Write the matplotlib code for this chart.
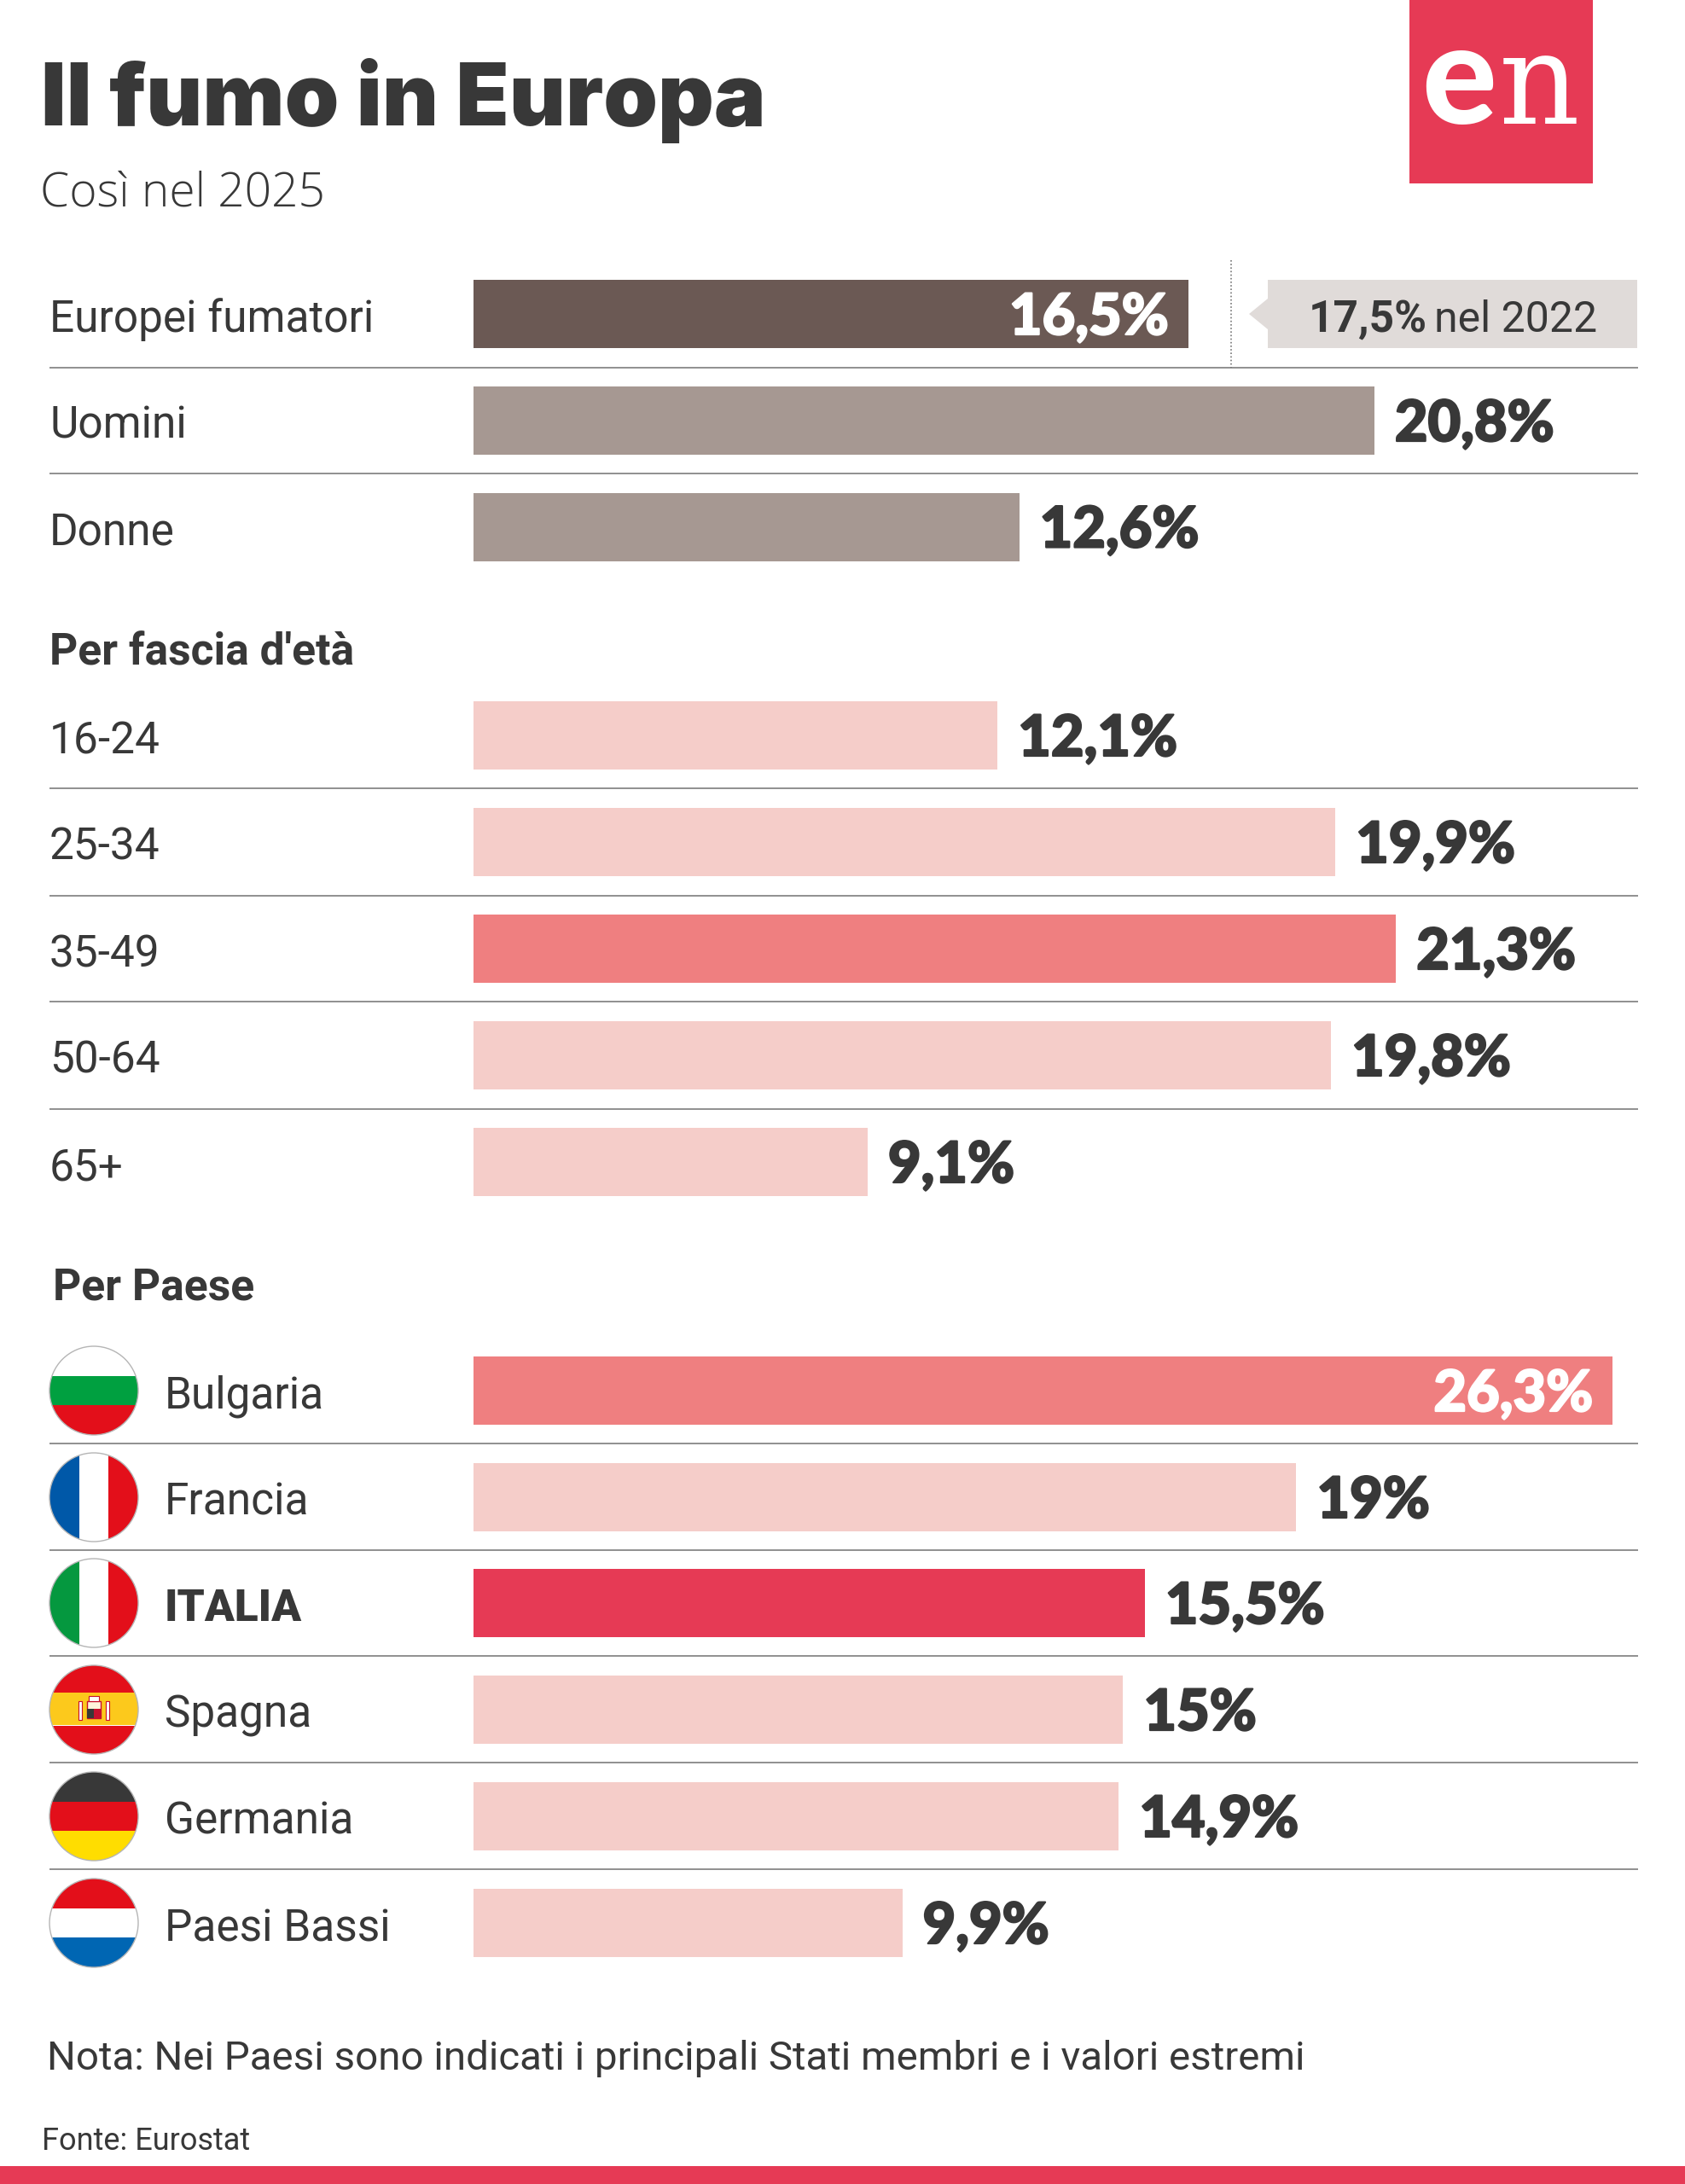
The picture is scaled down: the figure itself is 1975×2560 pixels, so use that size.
import matplotlib
matplotlib.use("Agg")
import matplotlib.pyplot as plt
import matplotlib.patheffects as pe
from matplotlib.patches import Rectangle, Circle, Polygon

W, H = 1975, 2560
PX_PER_UNIT = 50.76
X0 = 555

TITLE = "Il fumo in Europa"
SUBTITLE = "Così nel 2025"
NOTE = "Nota: Nei Paesi sono indicati i principali Stati membri e i valori estremi"
SOURCE = "Fonte: Eurostat"

overall_labels = ["Europei fumatori", "Uomini", "Donne"]
overall_values = [16.5, 20.8, 12.6]
overall_text = ["16,5%", "20,8%", "12,6%"]
overall_y = [368, 493, 617.5]
overall_colors = ["#6b5954", "#a69892", "#a69892"]

age_labels = ["16-24", "25-34", "35-49", "50-64", "65+"]
age_values = [12.1, 19.9, 21.3, 19.8, 9.1]
age_text = ["12,1%", "19,9%", "21,3%", "19,8%", "9,1%"]
age_y = [862, 987, 1112, 1237, 1362]
age_colors = ["#f5cdc9", "#f5cdc9", "#ef7f80", "#f5cdc9", "#f5cdc9"]

country_labels = ["Bulgaria", "Francia", "ITALIA", "Spagna", "Germania", "Paesi Bassi"]
country_values = [26.3, 19, 15.5, 15, 14.9, 9.9]
country_text = ["26,3%", "19%", "15,5%", "15%", "14,9%", "9,9%"]
country_y = [1630, 1755, 1879, 2004, 2129, 2254]
country_colors = ["#ef7f80", "#f5cdc9", "#e63a55", "#f5cdc9", "#f5cdc9", "#f5cdc9"]

rules_y = [431, 555, 924, 1050, 1174, 1300, 1692, 1817, 1941, 2066, 2191]

TXT = "#383838"
RED = "#e63a55"
VALUE_FONT = "Lato"
TITLE_FONT = "Inter"
LABEL_FONT = "Roboto"

fig = plt.figure(figsize=(W / 100, H / 100), dpi=100, facecolor="white")

# bar axes: x in percent, y in rows of pixels
ax = fig.add_axes([X0 / W, 0, (W - X0) / W, 1])
ax.set_xlim(0, (W - X0) / PX_PER_UNIT)
ax.set_ylim(H, 0)
ax.axis("off")

# page overlay in pixels
pg = fig.add_axes([0, 0, 1, 1], zorder=2)
pg.set_xlim(0, W)
pg.set_ylim(H, 0)
pg.axis("off")
pg.patch.set_alpha(0)

BAR_H = 80
VALUE_SIZE = 48

def value_label(value, text, y, inside=False):
    xend = X0 + value * PX_PER_UNIT
    color = "white" if inside else TXT
    x = xend - 23 if inside else xend + 24
    pg.text(x, y + 24, text, ha="right" if inside else "left", va="baseline", color=color,
            family=VALUE_FONT, weight="black", fontsize=VALUE_SIZE,
            path_effects=[pe.withStroke(linewidth=1.6, foreground=color)])

for labels, values, texts, ys, cols in [
    (overall_labels, overall_values, overall_text, overall_y, overall_colors),
    (age_labels, age_values, age_text, age_y, age_colors),
    (country_labels, country_values, country_text, country_y, country_colors),
]:
    ax.barh(ys, values, height=BAR_H, color=cols, linewidth=0)
    for v, t, y in zip(values, texts, ys):
        value_label(v, t, y, inside=(t in ("16,5%", "26,3%")))

for l, y in zip(overall_labels, overall_y):
    pg.text(58, y + 21, l, family=LABEL_FONT, fontsize=37, color=TXT, va="baseline")
for l, y in zip(age_labels, age_y):
    pg.text(58, y + 21, l, family=LABEL_FONT, fontsize=37, color=TXT, va="baseline")
for l, y in zip(country_labels, country_y):
    pg.text(193, y + 21, l, family=LABEL_FONT, fontsize=37, color=TXT, va="baseline",
            weight="black" if l == "ITALIA" else "normal")

for y in rules_y:
    pg.plot([58, 1920], [y, y], color="#8f8f8f", lw=1.4, solid_capstyle="butt")

# section heads
pg.text(58, 779, "Per fascia d'età", family=LABEL_FONT, weight="bold", fontsize=37.2, color=TXT, va="baseline")
pg.text(62, 1523, "Per Paese", family=LABEL_FONT, weight="bold", fontsize=37.2, color=TXT, va="baseline")

# header
pg.text(48, 147, TITLE, family=TITLE_FONT, weight="black", fontsize=73.4, color=TXT, va="baseline")
pg.text(47, 242, SUBTITLE, family="Open Sans", weight="light", fontsize=39.6, color=TXT, va="baseline")

# logo
pg.add_patch(Rectangle((1652, 0), 215, 215, color=RED, lw=0))
pg.text(1666, 145, "e", family="Lato", weight="black", fontsize=118, color="white", va="baseline")
pg.text(1757, 145, "n", family="DejaVu Serif", fontsize=106, color="white", va="baseline")

# 2022 comparison
pg.plot([1443, 1443], [305, 431], color="#777777", lw=1.2, ls=(0, (1, 1.5)))
pg.add_patch(Polygon([(1486, 328), (1919, 328), (1919, 408), (1486, 408), (1486, 386), (1464, 368), (1486, 350)],
                     closed=True, facecolor="#e0dbd9", edgecolor="none"))
pg.text(1534, 389, "17,5%", family=LABEL_FONT, weight="bold", fontsize=37, color=TXT, va="baseline")
pg.text(1872, 389, "nel 2022", family=LABEL_FONT, fontsize=36, color=TXT, va="baseline", ha="right")

# flags
FR = 52
def flag(cy, stripes, vertical=False):
    clip = Circle((110, cy), FR, transform=pg.transData)
    n = len(stripes)
    for i, c in enumerate(stripes):
        if vertical:
            r = Rectangle((110 - FR + i * 2 * FR / n, cy - FR), 2 * FR / n, 2 * FR, color=c, lw=0)
        else:
            r = Rectangle((110 - FR, cy - FR + i * 2 * FR / n), 2 * FR, 2 * FR / n, color=c, lw=0)
        pg.add_patch(r)
        r.set_clip_path(clip)
    pg.add_patch(Circle((110, cy), FR, facecolor="none", edgecolor="#b5b5b5", lw=1))

flag(country_y[0], ["#ffffff", "#00a040", "#e30f1a"])
flag(country_y[1], ["#0058a8", "#ffffff", "#e30f1a"], vertical=True)
flag(country_y[2], ["#05983f", "#ffffff", "#e30f1a"], vertical=True)
flag(country_y[4], ["#383838", "#e30f1a", "#ffdd00"])
flag(country_y[5], ["#e30f1a", "#ffffff", "#0066b3"])
# Spain: 1:2:1
cy = country_y[3]
clip = Circle((110, cy), FR, transform=pg.transData)
for y0, h, c in [(cy - FR, FR * 0.62, "#e30f1a"), (cy - FR * 0.38, FR * 0.72, "#fcc91c"), (cy + FR * 0.36, FR * 0.7, "#e30f1a")]:
    r = Rectangle((110 - FR, y0), 2 * FR, h + 0.5, color=c, lw=0)
    pg.add_patch(r)
    r.set_clip_path(clip)
pg.add_patch(Circle((110, cy), FR, facecolor="none", edgecolor="#b5b5b5", lw=1))
pg.add_patch(Rectangle((102, cy - 10), 16, 20, facecolor="#fff4dc", edgecolor="#c8102e", lw=1))
pg.add_patch(Rectangle((110, cy - 1), 8, 11, facecolor="#c8102e", edgecolor="none"))
pg.add_patch(Rectangle((102, cy - 1), 8, 11, facecolor="#383838", edgecolor="none"))
pg.add_patch(Rectangle((104, cy - 16), 12, 6, facecolor="white", edgecolor="#c8102e", lw=0.8))
for dx in (-18, 14):
    pg.add_patch(Rectangle((110 + dx, cy - 10), 4, 22, facecolor="white", edgecolor="#c8102e", lw=0.8))

# footer
pg.text(55, 2426, NOTE, family=LABEL_FONT, fontsize=34.2, color=TXT, va="baseline")
pg.text(49, 2520, SOURCE, family=LABEL_FONT, fontsize=26, color=TXT, va="baseline")
pg.add_patch(Rectangle((0, 2539), W, 21, color=RED, lw=0))

fig.savefig("out.png", dpi=100)
